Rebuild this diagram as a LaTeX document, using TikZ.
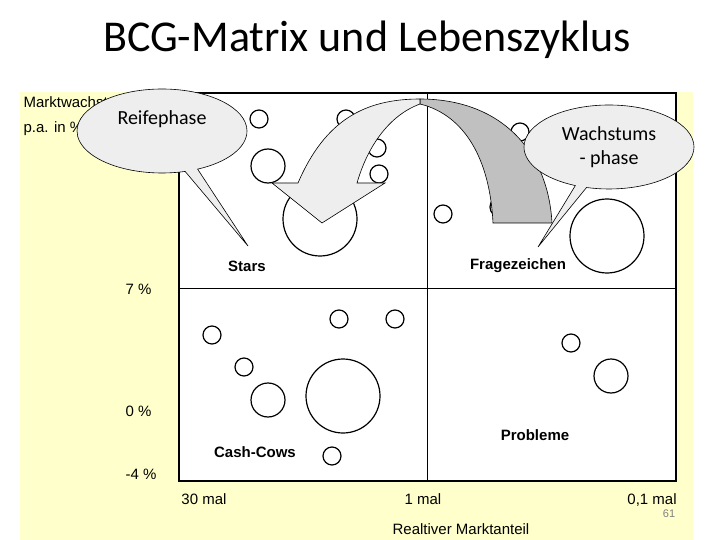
\documentclass[tikz,border=0pt]{standalone}
\usepackage{fontspec}
\setmainfont{Liberation Sans}
\newfontfamily\slidefont{Carlito}
\usetikzlibrary{shapes.callouts}
\definecolor{paleyellow}{RGB}{255,255,204}
\definecolor{lightfill}{RGB}{238,238,238}
\definecolor{darkfill}{RGB}{192,192,192}
\tikzset{
	bubble/.style={draw, line width=1.2pt},
	quadlabel/.style={font=\fontsize{15}{18}\selectfont\bfseries},
	axislabel/.style={font=\fontsize{15}{18}\selectfont, text height=11pt, text depth=3pt},
	speech/.style={ellipse callout, draw, fill=lightfill, line width=0.6pt, minimum width=170pt, minimum height=84pt, inner sep=0pt, align=center, font=\slidefont\fontsize{20}{24}\selectfont},
	bendarrow/.style={draw, line width=0.6pt}
}

\begin{document}
\begin{tikzpicture}[x=1pt, y=-1pt]
	\useasboundingbox (0,0) rectangle (720,540);

	% Title
	\node[font=\slidefont\fontsize{44}{50}\selectfont] (title) at (367,40) {BCG-Matrix und Lebenszyklus};

	% Background and the matrix itself
	\fill[paleyellow] (20,92) rectangle (693,540);
	\draw[fill=white, line width=1.2pt] (179,93) rectangle (676,481);
	\draw[line width=1pt] (427,93) -- (427,481);
	\draw[line width=1pt] (179,288) -- (676,288);

	% Axis texts
	\node[axislabel, anchor=west] (ytitle) at (20,104) {Marktwachstum};
	\node[axislabel, anchor=west] (yunit) at (20,129) {p.a. in \%};
	\node[axislabel, anchor=west] (yseven) at (122,290) {7 \%};
	\node[axislabel, anchor=west] (yzero) at (122,412) {0 \%};
	\node[axislabel, anchor=west] (yminus) at (122,475) {-4 \%};
	\node[axislabel] (xthirty) at (204,500) {30 mal};
	\node[axislabel] (xone) at (423,500) {1 mal};
	\node[axislabel] (xtenth) at (652,500) {0,1 mal};
	\node[axislabel] (xtitle) at (461,530) {Realtiver Marktanteil};
	\node[font=\fontsize{11}{13}\selectfont, text=gray] (pageno) at (669,514) {61};

	% Quadrant names
	\node[quadlabel] (stars) at (247,266) {Stars};
	\node[quadlabel] (frage) at (518,266) {Fragezeichen};
	\node[quadlabel] (cows) at (255,452) {Cash-Cows};
	\node[quadlabel] (probleme) at (535,435) {Probleme};

	% Draw the products
	\foreach \cx/\cy/\r in {259/119/9, 268/166/17, 320/219/37, 346/119/9, 377/148/9, 379/174/9,
		443/214/9, 500/207/10, 520/132/9, 607/236/37,
		212/335/9, 244/367/9, 268/400/17, 339/319/9, 343/396/37, 332/456/9, 395/319/9,
		571/343/9, 611/376/17}
		\draw[bubble] (\cx,\cy) circle (\r);

	% Curved arrow: back side (tail) and front side (head)
	\path[bendarrow, fill=darkfill] (420,99) .. controls (500,99) and (548,150) .. (552,223)
		-- (493,223) .. controls (490,160) and (465,115) .. (420,104) -- cycle;
	\path[bendarrow, fill=lightfill] (420,99) -- (420,104) .. controls (390,115) and (368,145) .. (357,183)
		-- (385,183) -- (322,223) -- (272,183) -- (298,183)
		.. controls (325,120) and (365,99) .. (420,99) -- cycle;

	% Speech bubbles
	\node[speech, callout absolute pointer={(248,246)}, callout pointer arc=9] (reife) at (162,131) {Reifephase\\[2pt]\mbox{}};
	\node[speech, callout absolute pointer={(538,247)}, callout pointer arc=8] (wachstum) at (609,147) {Wachstums\\- phase};

\end{tikzpicture}
\end{document}
